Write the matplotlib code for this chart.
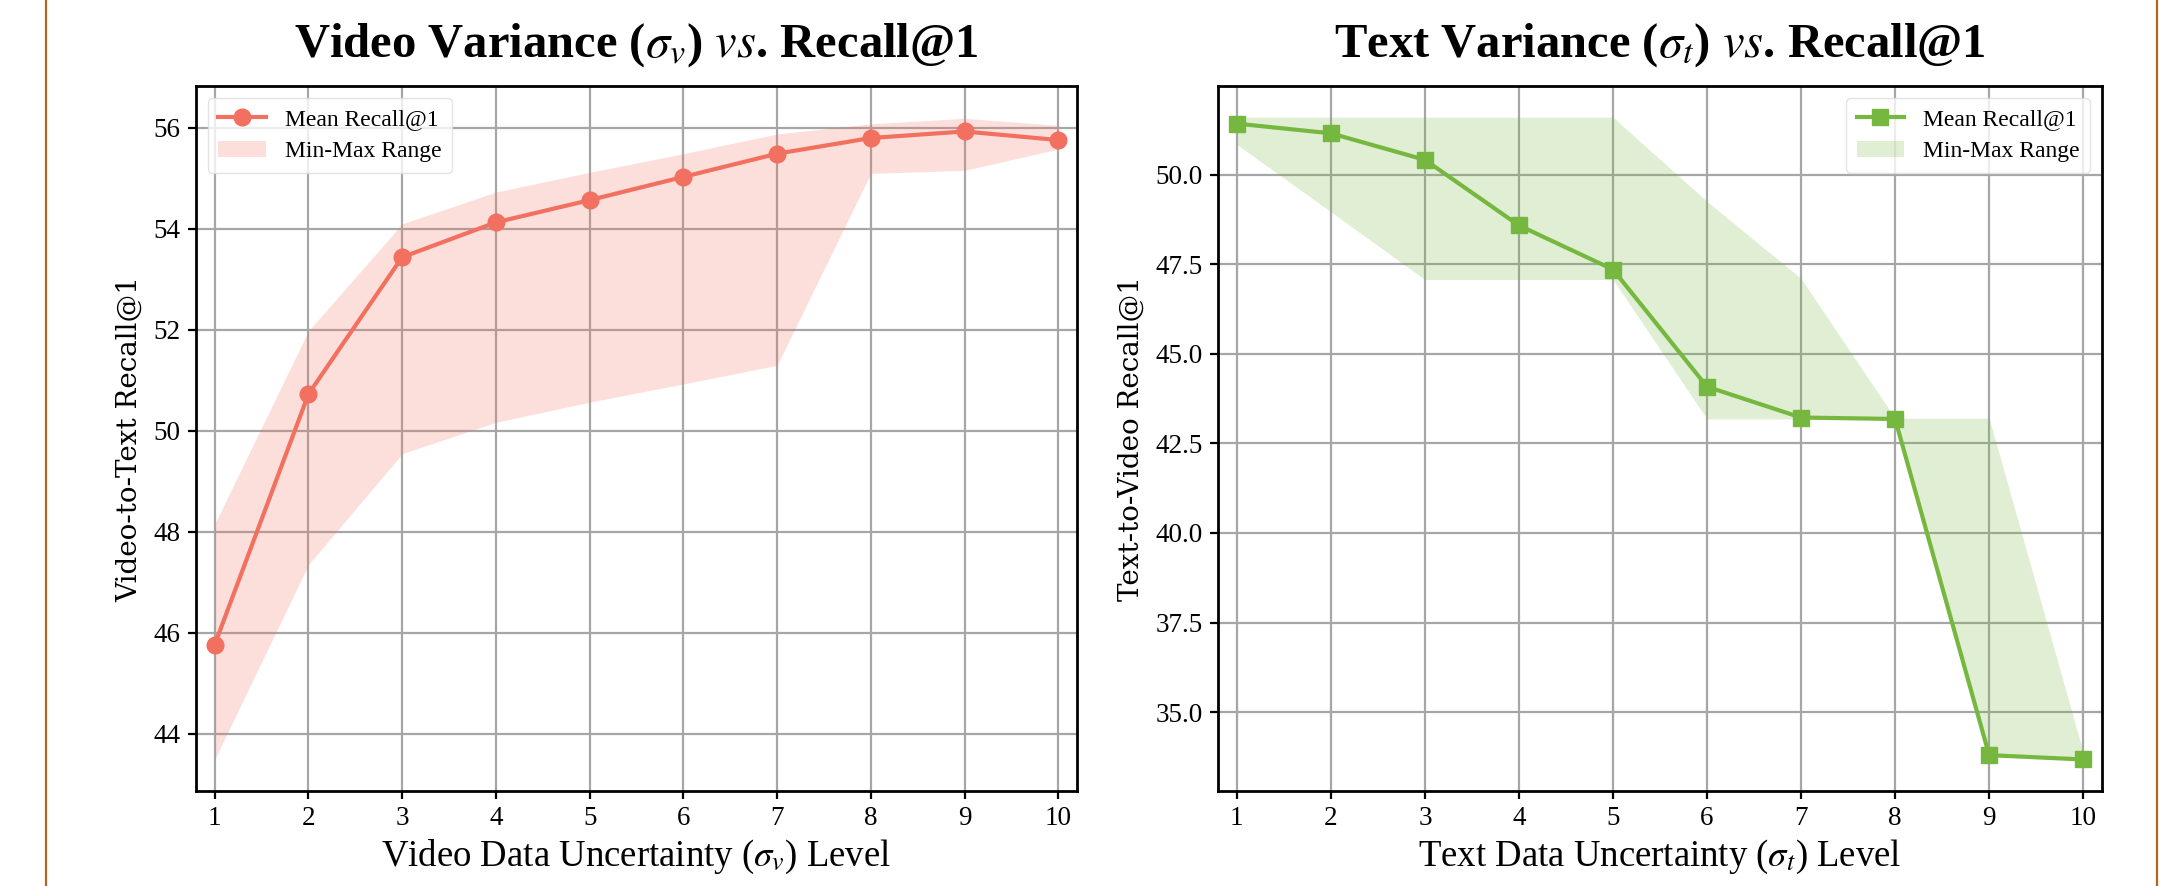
import matplotlib
matplotlib.use('Agg')
import matplotlib.pyplot as plt
from matplotlib.lines import Line2D

# ---------------- data ----------------
levels = [1, 2, 3, 4, 5, 6, 7, 8, 9, 10]

video_mean = [45.77, 50.73, 53.44, 54.13, 54.57, 55.03, 55.49, 55.80, 55.93, 55.76]
video_min = [43.50, 47.35, 49.55, 50.17, 50.57, 50.93, 51.30, 55.10, 55.16, 55.58]
video_max = [48.16, 51.98, 54.10, 54.73, 55.12, 55.49, 55.88, 56.08, 56.19, 56.05]

text_mean = [51.42, 51.15, 50.41, 48.58, 47.35, 44.08, 43.22, 43.18, 33.80, 33.68]
text_min = [50.84, 48.96, 47.07, 47.07, 47.07, 43.18, 43.18, 43.18, 33.80, 33.68]
text_max = [51.60, 51.60, 51.60, 51.60, 51.60, 49.25, 47.10, 43.20, 43.20, 33.88]

video_ticks = [44, 46, 48, 50, 52, 54, 56]
text_ticks = [35.0, 37.5, 40.0, 42.5, 45.0, 47.5, 50.0]

# ---------------- style ----------------
plt.rcParams['font.family'] = ['Liberation Serif', 'DejaVu Serif']
plt.rcParams['mathtext.fontset'] = 'stix'

RED = '#F2705F'
GREEN = '#76B83F'
W, H = 2183, 886
fig = plt.figure(figsize=(W / 100, H / 100), dpi=100)


def box(l, t, r, b):
    return [l / W, 1 - b / H, (r - l) / W, (b - t) / H]


ax1 = fig.add_axes(box(196, 86, 1077, 791))
ax2 = fig.add_axes(box(1218, 86, 2102, 791))


def style(ax):
    ax.grid(True, color='#a6a6a6', linewidth=1.6, zorder=0)
    ax.set_axisbelow(True)
    for s in ax.spines.values():
        s.set_linewidth(2.0)
        s.set_color('black')
    ax.tick_params(direction='out', length=6, width=1.6, labelsize=19.5, pad=5)
    ax.set_xticks(levels)
    ax.set_xlim(0.8, 10.2)


legend_kw = dict(fontsize=17, framealpha=0.8, edgecolor='#dddddd',
                 handlelength=2.0, borderpad=0.45, labelspacing=0.45)

# left panel
ax1.fill_between(levels, video_min, video_max, color=RED, alpha=0.22,
                 linewidth=0, label='Min-Max Range', zorder=2)
ax1.plot(levels, video_mean, color=RED, marker='o', markersize=12,
         linewidth=3.0, label='Mean Recall@1', zorder=3)
style(ax1)
ax1.set_yticks(video_ticks)
ax1.set_ylim(42.87, 56.83)
ax1.set_title(r'Video Variance ($\sigma_v$) $\mathit{vs}$. Recall@1', fontsize=35,
              fontweight='bold', pad=21)
ax1.set_xlabel(r'Video Data Uncertainty ($\sigma_v$) Level', fontsize=26.5, labelpad=5)
ax1.set_ylabel('Video-to-Text Recall@1', fontsize=20, family='DejaVu Serif', labelpad=8)
h, l = ax1.get_legend_handles_labels()
ax1.legend(h[::-1], l[::-1], loc='upper left', **legend_kw)

# right panel
ax2.fill_between(levels, text_min, text_max, color=GREEN, alpha=0.22,
                 linewidth=0, label='Min-Max Range', zorder=2)
ax2.plot(levels, text_mean, color=GREEN, marker='s', markersize=11,
         linewidth=3.0, label='Mean Recall@1', zorder=3)
style(ax2)
ax2.set_yticks(text_ticks)
ax2.set_yticklabels([f'{t:.1f}' for t in text_ticks])
ax2.set_ylim(32.80, 52.47)
ax2.set_title(r'Text Variance ($\sigma_t$) $\mathit{vs}$. Recall@1', fontsize=35,
              fontweight='bold', pad=21)
ax2.set_xlabel(r'Text Data Uncertainty ($\sigma_t$) Level', fontsize=26.5, labelpad=5)
ax2.set_ylabel('Text-to-Video Recall@1', fontsize=20, family='DejaVu Serif', labelpad=8)
h, l = ax2.get_legend_handles_labels()
ax2.legend(h[::-1], l[::-1], loc='upper right', **legend_kw)

# page border lines
for xp in (46, 2157):
    fig.add_artist(Line2D([xp / W, xp / W], [0, 1], transform=fig.transFigure,
                          color='#B5651D', linewidth=1.6))

fig.savefig('out.png', dpi=100)
